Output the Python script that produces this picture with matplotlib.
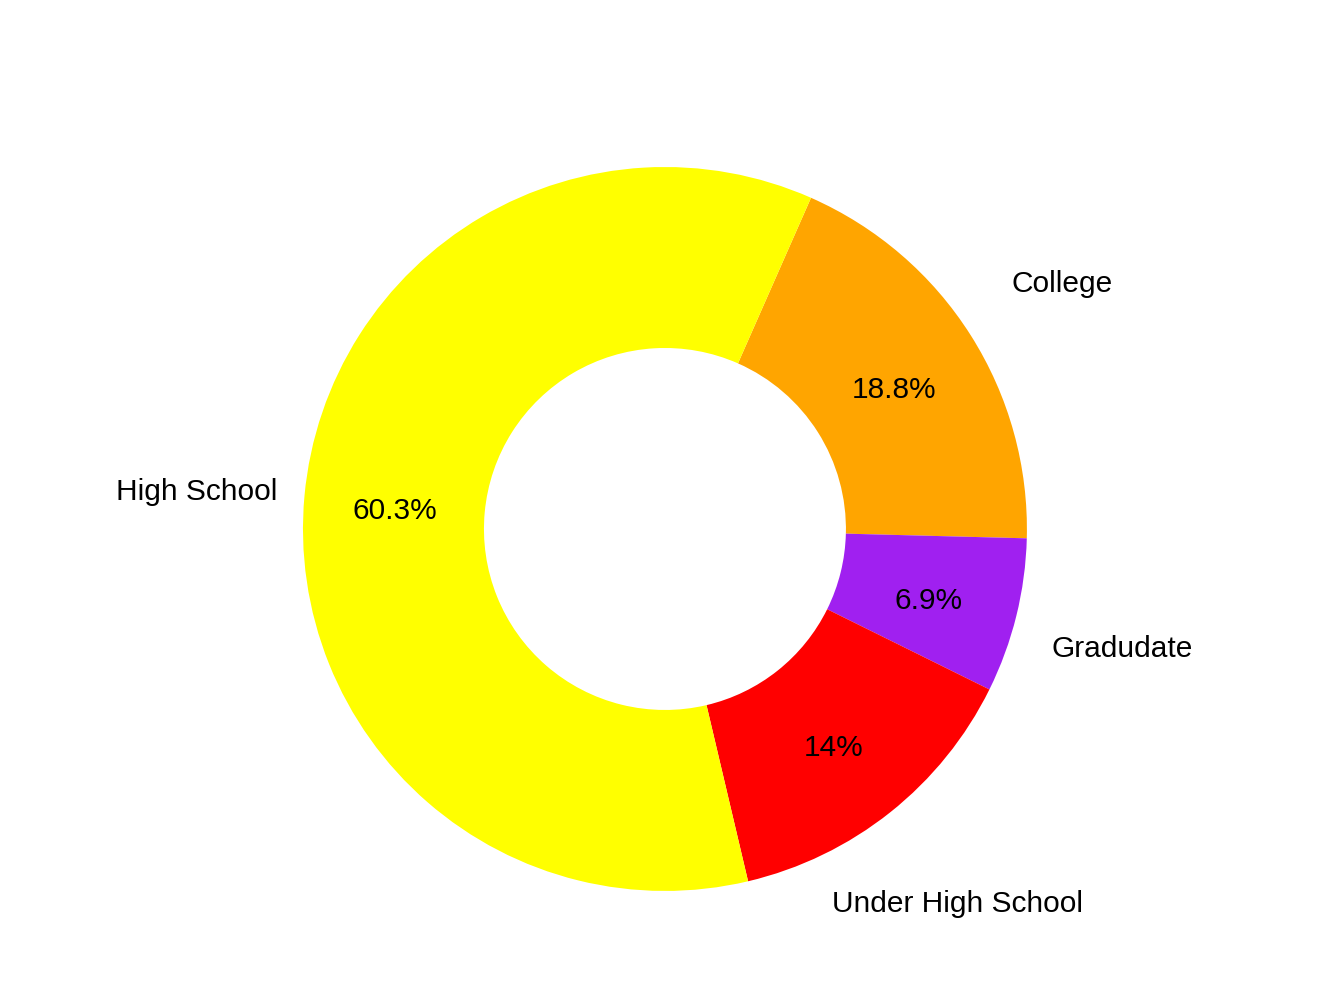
import numpy as np
import matplotlib
matplotlib.use("Agg")
import matplotlib.pyplot as plt

plt.rcParams["font.family"] = ["Liberation Sans", "DejaVu Sans"]

categories = ["College", "Gradudate", "Under High School", "High School"]
shares = [18.8, 6.9, 14.0, 60.3]
pct_labels = ["18.8%", "6.9%", "14%", "60.3%"]
colors = ["#FFA500", "#A020F0", "#FF0000", "#FFFF00"]

fig = plt.figure(figsize=(13.44, 10.08), dpi=100)
ax = fig.add_axes([0, 0, 1, 1])

wedges, _ = ax.pie(shares, colors=colors, startangle=66.2, counterclock=False,
                   radius=1.0, wedgeprops=dict(width=0.5, linewidth=0))

for w, cat, pct in zip(wedges, categories, pct_labels):
    mid = np.deg2rad((w.theta1 + w.theta2) / 2)
    ax.text(0.75 * np.cos(mid), 0.75 * np.sin(mid) - 0.018, pct,
            ha="center", va="center", fontsize=21.5)
    ax.text(1.30 * np.cos(mid), 1.30 * np.sin(mid) - 0.018, cat,
            ha="center", va="center", fontsize=21.5)

ax.set_xlim(-1.837, 1.876)
ax.set_ylim(-1.323, 1.461)
ax.set_aspect("equal")
ax.axis("off")

fig.savefig("out.png", dpi=100)
